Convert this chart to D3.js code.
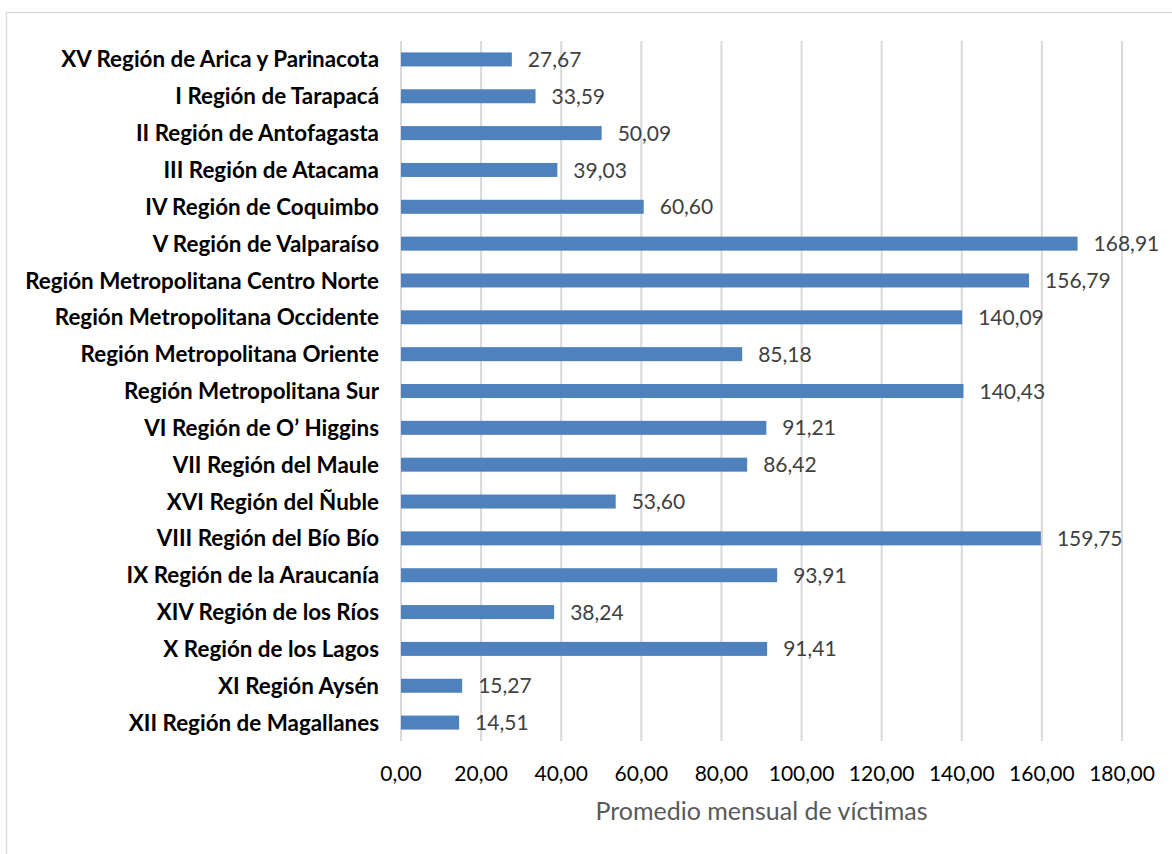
<!DOCTYPE html>
<html>
<head>
<meta charset="utf-8">
<script src="https://cdn.jsdelivr.net/npm/d3@7"></script>
<style>
  body { margin: 0; background: #fff; }
  svg { display: block; }
</style>
</head>
<body>
<svg id="chart" width="1172" height="854"></svg>
<script>
// data
var regions = [
  "XV Región de Arica y Parinacota",
  "I Región de Tarapacá",
  "II Región de Antofagasta",
  "III Región de Atacama",
  "IV Región de Coquimbo",
  "V Región de Valparaíso",
  "Región Metropolitana Centro Norte",
  "Región Metropolitana Occidente",
  "Región Metropolitana Oriente",
  "Región Metropolitana Sur",
  "VI Región de O’ Higgins",
  "VII Región del Maule",
  "XVI Región del Ñuble",
  "VIII Región del Bío Bío",
  "IX Región de la Araucanía",
  "XIV Región de los Ríos",
  "X Región de los Lagos",
  "XI Región Aysén",
  "XII Región de Magallanes"
];
var victimas = [27.67, 33.59, 50.09, 39.03, 60.60, 168.91, 156.79, 140.09, 85.18,
  140.43, 91.21, 86.42, 53.60, 159.75, 93.91, 38.24, 91.41, 15.27, 14.51];
var xTicks = [0, 20, 40, 60, 80, 100, 120, 140, 160, 180];
var axisTitle = "Promedio mensual de víctimas";

var BAR_COLOR = "#4f81bd";
var GRID_COLOR = "#d9d9d9";
var FONT = "Lato, 'Open Sans', sans-serif";

var svg = d3.select("#chart");
var plot = { left: 401, right: 1122, top: 41, bottom: 741 };

// outer chart border (right and bottom edges run off the picture)
svg.append("rect")
  .attr("x", 6.5).attr("y", 12.5)
  .attr("width", 1200).attr("height", 900)
  .attr("fill", "none")
  .attr("stroke", GRID_COLOR)
  .attr("stroke-width", 1.3);

var x = d3.scaleLinear().domain([0, 180]).range([plot.left, plot.right]);
var y = d3.scaleBand().domain(regions).range([plot.top, plot.bottom]).paddingInner(0.62).paddingOuter(0.31);

function fmt(v) {
  return d3.format(".2f")(v).replace(".", ",");
}

// vertical gridlines
svg.append("g").selectAll("line")
  .data(xTicks)
  .join("line")
  .attr("x1", function(d) { return x(d); })
  .attr("x2", function(d) { return x(d); })
  .attr("y1", plot.top)
  .attr("y2", plot.bottom)
  .attr("stroke", GRID_COLOR)
  .attr("stroke-width", 2);

// x tick labels
svg.append("g").selectAll("text")
  .data(xTicks)
  .join("text")
  .attr("x", function(d) { return x(d); })
  .attr("y", 781)
  .attr("text-anchor", "middle")
  .attr("font-family", FONT)
  .attr("font-size", 21)
  .attr("fill", "#000")
  .text(fmt);

// bars
svg.append("g").selectAll("rect")
  .data(regions)
  .join("rect")
  .attr("x", x(0))
  .attr("y", function(d) { return y(d); })
  .attr("width", function(d, i) { return x(victimas[i]) - x(0); })
  .attr("height", y.bandwidth())
  .attr("fill", BAR_COLOR);

// value labels
svg.append("g").selectAll("text")
  .data(regions)
  .join("text")
  .attr("x", function(d, i) { return x(victimas[i]) + 16; })
  .attr("y", function(d) { return y(d) + y.bandwidth() / 2; })
  .attr("dy", "0.36em")
  .attr("font-family", FONT)
  .attr("font-size", 21)
  .attr("fill", "#404040")
  .text(function(d, i) { return fmt(victimas[i]); });

// category labels
svg.append("g").selectAll("text")
  .data(regions)
  .join("text")
  .attr("x", 379)
  .attr("y", function(d) { return y(d) + y.bandwidth() / 2; })
  .attr("dy", "0.36em")
  .attr("text-anchor", "end")
  .attr("font-family", FONT)
  .attr("font-weight", "bold")
  .attr("font-size", 22.4)
  .attr("fill", "#000")
  .text(function(d) { return d; });

// axis title
svg.append("text")
  .attr("x", (plot.left + plot.right) / 2)
  .attr("y", 820)
  .attr("text-anchor", "middle")
  .attr("font-family", FONT)
  .attr("font-size", 25)
  .attr("fill", "#595959")
  .text(axisTitle);
</script>
</body>
</html>
